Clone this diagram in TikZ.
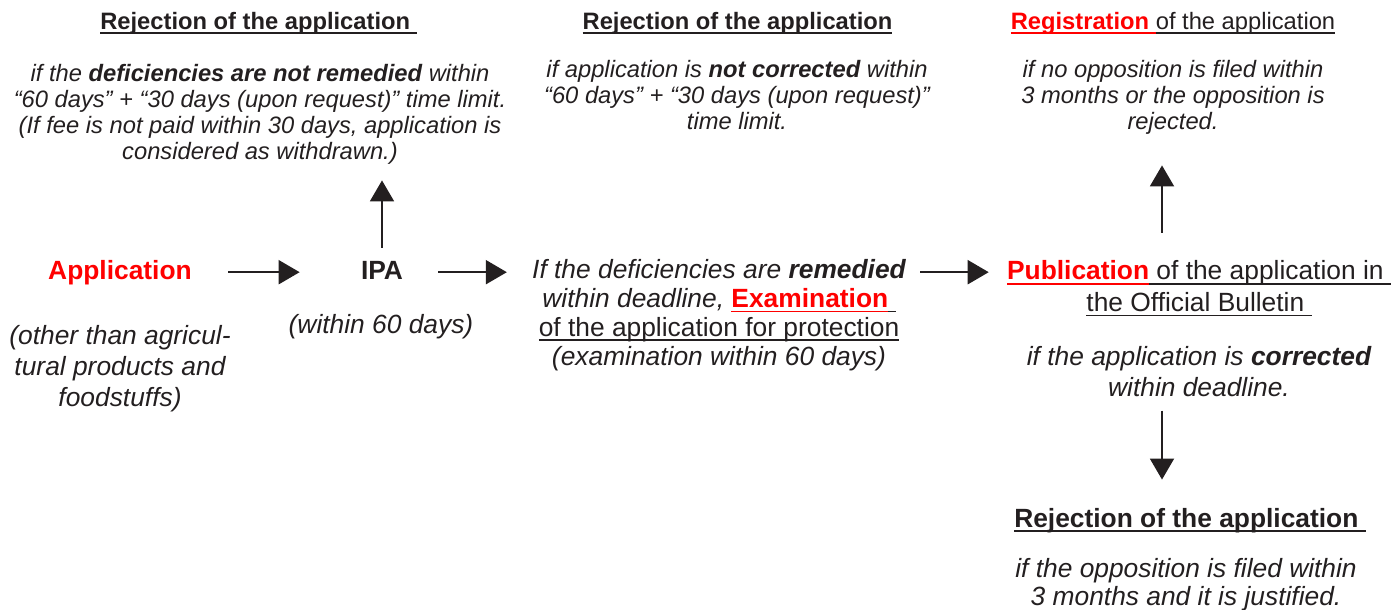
\documentclass[tikz,border=0pt]{standalone}
\usepackage{fontspec}
\setmainfont{Liberation Sans}
\usepackage{tikz}
\usetikzlibrary{arrows.meta, calc}
\usepackage{xcolor}
\definecolor{inkgray}{RGB}{35, 31, 32}
\definecolor{markred}{RGB}{255, 0, 0}
% underline at a fixed depth below the baseline
\newcommand{\ulx}[1]{\setbox0\hbox{#1}\rlap{\rule[-2.6pt]{\wd0}{0.8pt}}\box0}

\begin{document}
\begin{tikzpicture}[
    title/.style={font=\fontsize{13.5}{15}\selectfont\bfseries, text=inkgray, inner sep=0pt, anchor=base},
    cond/.style={font=\fontsize{13.5}{14.8}\selectfont\itshape, text=inkgray, align=center, inner sep=0pt},
    stage/.style={font=\fontsize{15}{18}\selectfont\bfseries, text=inkgray, inner sep=0pt, anchor=base},
    remark/.style={font=\fontsize{15}{17}\selectfont\itshape, text=inkgray, align=center, inner sep=0pt},
    flow/.style={draw=inkgray, line width=1.1pt, -{Triangle[length=0.42cm, width=0.48cm]}}
]
    \useasboundingbox (0,0) rectangle (27.94,-12.18);

    % Top row - outcomes
    \node[title] (rejA) at (5.17,-0.58) {\ulx{Rejection of the application\ }};
    \node[cond] (rejAtext) at (5.2,-2.28) {if the \textbf{deficiencies are not remedied} within\\
        “60 days” + “30 days (upon request)” time limit.\\
        (If fee is not paid within 30 days, application is\\
        considered as withdrawn.)};

    \node[title] (rejB) at (14.75,-0.58) {\ulx{Rejection of the application}};
    \node[cond] (rejBtext) at (14.74,-1.91) {if application is \textbf{not corrected} within\\
        “60 days” + “30 days (upon request)”\\
        time limit.};

    \node[title, font=\fontsize{13.5}{15}\selectfont] (reg) at (23.46,-0.58) {\textcolor{markred}{\bfseries\ulx{Registration\ }}\ulx{of the application}};
    \node[cond] (regtext) at (23.46,-1.94) {if no opposition is filed within\\
        3 months or the opposition is\\
        rejected.};

    % Middle row - procedure
    \node[stage, text=markred] (app) at (2.4,-5.58) {Application};
    \node[remark, font=\fontsize{15}{17.6}\selectfont\itshape] (appnote) at (2.4,-7.37) {(other than agricul-\\
        tural products and\\
        foodstuffs)};

    \node[stage] (ipa) at (7.64,-5.58) {IPA};
    \node[remark, anchor=base] (ipanote) at (7.62,-6.66) {(within 60 days)};

    \node[remark, font=\fontsize{15}{16.4}\selectfont\itshape] (exam) at (14.38,-6.30) {If the deficiencies are \textbf{remedied}\\
        within deadline, \textcolor{markred}{\ulx{\bfseries\upshape Examination}}\ulx{\ }\\
        \ulx{\upshape of the application for protection}\\
        (examination within 60 days)};

    \node[remark, font=\fontsize{15}{18}\selectfont] (pub) at (23.98,-5.77) {\textcolor{markred}{\ulx{\bfseries Publication}}\ulx{\ of the application in\ }\\
        \ulx{the Official Bulletin\ }};
    \node[remark, font=\fontsize{15}{17.6}\selectfont\itshape] (pubnote) at (23.98,-7.44) {if the application is \textbf{corrected}\\
        within deadline.};

    % Bottom - rejection after opposition
    \node[stage] (rejC) at (23.8,-10.54) {\ulx{Rejection of the application\ }};
    \node[remark, font=\fontsize{15}{16.3}\selectfont\itshape] (rejCtext) at (23.72,-11.69) {if the opposition is filed within\\
        3 months and it is justified.};

    % Arrows
    \draw[flow] ($(app.east)+(0.72,0)$) -- ($(ipa.west |- app.east)+(-1.22,0)$);
    \draw[flow] ($(ipa.east |- app.east)+(0.7,0)$) -- ($(exam.west |- app.east)+(-0.5,0)$);
    \draw[flow] ($(exam.east |- app.east)+(0.28,0)$) -- ($(pub.west |- app.east)+(-0.36,0)$);
    \draw[flow] ($(ipa.north)+(0,0.26)$) -- ($(ipa.north |- rejAtext.south)+(0,-0.32)$);
    \draw[flow] ($(pub.north)+(-0.74,0.56)$) -- ($(pub.north |- regtext.south)+(-0.74,-0.62)$);
    \draw[flow] ($(pubnote.south)+(-0.74,-0.26)$) -- ($(pubnote.south |- rejC.north)+(-0.74,0.56)$);

\end{tikzpicture}
\end{document}
